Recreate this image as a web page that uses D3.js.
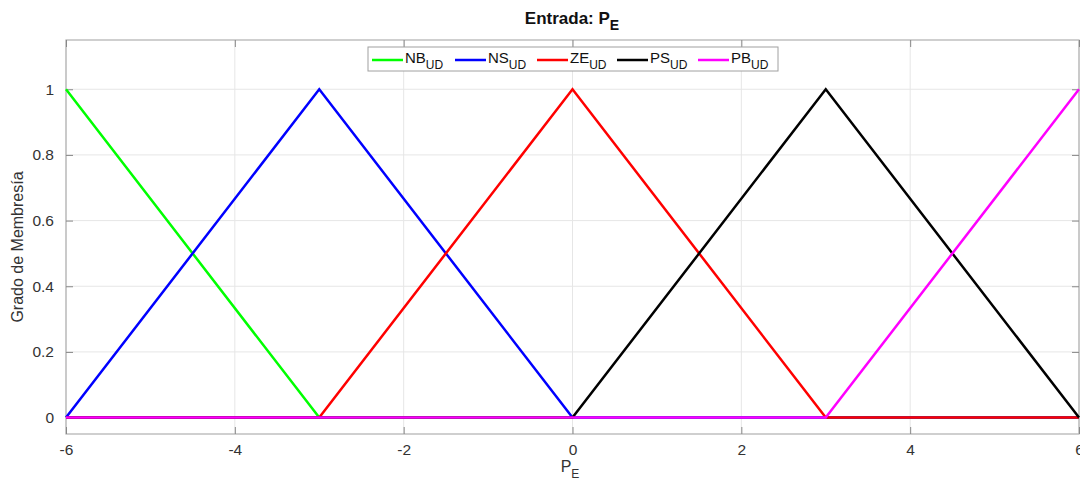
<!DOCTYPE html>
<html><head><meta charset="utf-8">
<script src="https://cdn.jsdelivr.net/npm/d3@7"></script>
<style>body{margin:0;background:#fff}svg{display:block}text{font-family:"Liberation Sans",Arial,sans-serif}</style>
</head><body><svg id="c" width="1080" height="479"></svg>
<script>
const xPts = [-6, -3, 0, 3, 6];
const seriesNames = ["NB", "NS", "ZE", "PS", "PB"];
const seriesColors = ["#00ff00", "#0000ff", "#ff0000", "#000000", "#ff00ff"];
const NB = [1, 0, 0, 0, 0];
const NS = [0, 1, 0, 0, 0];
const ZE = [0, 0, 1, 0, 0];
const PS = [0, 0, 0, 1, 0];
const PB = [0, 0, 0, 0, 1];
const seriesValues = [NB, NS, ZE, PS, PB];
const xTicks = [-6, -4, -2, 0, 2, 4, 6];
const yTicks = [0, 0.2, 0.4, 0.6, 0.8, 1];

const svg = d3.select("#c");
const L = 66, R = 1079, T = 40, B = 434;
const x = d3.scaleLinear().domain([-6, 6]).range([L, R]);
const y = d3.scaleLinear().domain([-0.05, 1.15]).range([B, T]);

// grid
svg.append("g").selectAll("line").data(xTicks).join("line")
  .attr("x1", d => x(d)).attr("x2", d => x(d)).attr("y1", T).attr("y2", B)
  .attr("stroke", "#e6e6e6").attr("stroke-width", 1);
svg.append("g").selectAll("line").data(yTicks).join("line")
  .attr("x1", L).attr("x2", R).attr("y1", d => y(d)).attr("y2", d => y(d))
  .attr("stroke", "#e6e6e6").attr("stroke-width", 1);

// box
svg.append("rect").attr("x", L).attr("y", T).attr("width", R - L).attr("height", B - T)
  .attr("fill", "none").attr("stroke", "#b0b0b0").attr("stroke-width", 1.2);

// axes
const xb = svg.append("g").attr("transform", `translate(0,${B})`)
  .call(d3.axisBottom(x).tickValues(xTicks).tickSize(-7).tickPadding(10).tickFormat(d => String(d)));
const xt = svg.append("g").attr("transform", `translate(0,${T})`)
  .call(d3.axisTop(x).tickValues(xTicks).tickSize(-7).tickFormat(""));
const yl = svg.append("g").attr("transform", `translate(${L},0)`)
  .call(d3.axisLeft(y).tickValues(yTicks).tickSize(-7).tickPadding(12).tickFormat(d => d === 0 || d === 1 ? String(d) : d.toFixed(1)));
const yr = svg.append("g").attr("transform", `translate(${R},0)`)
  .call(d3.axisRight(y).tickValues(yTicks).tickSize(-7).tickFormat(""));
[xb, xt, yl, yr].forEach(g => {
  g.select(".domain").remove();
  g.selectAll(".tick line").attr("stroke", "#888");
  g.selectAll("text").attr("fill", "#333").style("font-size", "15.5px");
});

// lines
const line = d3.line().x((d, i) => x(xPts[i])).y(d => y(d));
seriesValues.forEach((vals, k) => {
  svg.append("path").datum(vals).attr("d", line)
    .attr("fill", "none").attr("stroke", seriesColors[k]).attr("stroke-width", 2.5);
});

// legend
const lg = svg.append("g");
lg.append("rect").attr("x", 368).attr("y", 47).attr("width", 410).attr("height", 24)
  .attr("fill", "#fff").attr("stroke", "#a0a0a0").attr("stroke-width", 1);
const lx = [372, 455, 537, 617, 698];
seriesNames.forEach((n, i) => {
  lg.append("line").attr("x1", lx[i]).attr("x2", lx[i] + 31).attr("y1", 60).attr("y2", 60)
    .attr("stroke", seriesColors[i]).attr("stroke-width", 2.5);
  const t = lg.append("text").attr("x", lx[i] + 33).attr("y", 63).attr("fill", "#111").style("font-size", "15px");
  t.append("tspan").text(n);
  t.append("tspan").attr("dy", 6).style("font-size", "12px").text("UD");
});

// title
const tt = svg.append("text").attr("x", 572).attr("y", 24).attr("text-anchor", "middle")
  .style("font-size", "17px").style("font-weight", "bold").attr("fill", "#111");
tt.append("tspan").text("Entrada: P");
tt.append("tspan").attr("dy", 6).style("font-size", "14px").text("E");

// x label
const xlab = svg.append("text").attr("x", 570).attr("y", 472).attr("text-anchor", "middle")
  .style("font-size", "16px").attr("fill", "#333");
xlab.append("tspan").text("P");
xlab.append("tspan").attr("dy", 6).style("font-size", "12px").text("E");

// y label
svg.append("text").attr("transform", `translate(23,${(T + B) / 2 + 10}) rotate(-90)`)
  .attr("text-anchor", "middle").style("font-size", "16px").attr("fill", "#333")
  .text("Grado de Membresía");
</script></body></html>
